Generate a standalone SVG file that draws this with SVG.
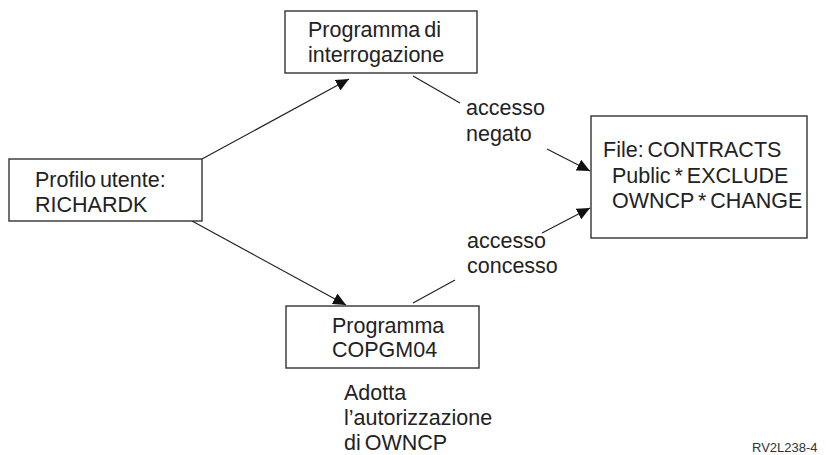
<svg xmlns="http://www.w3.org/2000/svg" width="826" height="455" viewBox="0 0 826 455">
<defs>
<style>
.box{fill:#fff;stroke:#333;stroke-width:1.4}
.t{font-family:"Liberation Sans",Arial,sans-serif;font-size:21.5px;word-spacing:-2px;fill:#222}
.s{font-family:"Liberation Sans",Arial,sans-serif;font-size:13px;fill:#333}
.ln{stroke:#222;stroke-width:1.2;fill:none}
</style>
<marker id="ah" markerWidth="14" markerHeight="12" refX="13" refY="6" orient="auto" markerUnits="userSpaceOnUse">
<path d="M0,0 L13,6 L0,12 Z" fill="#111"/>
</marker>
</defs>
<rect width="826" height="455" fill="#fff"/>
<g id="connectors">
<line class="ln" x1="202" y1="159" x2="349" y2="79" marker-end="url(#ah)"/>
<line class="ln" x1="192" y1="221" x2="346" y2="305" marker-end="url(#ah)"/>
<line class="ln" x1="413" y1="76" x2="460" y2="103"/>
<line class="ln" x1="547" y1="149" x2="590" y2="171" marker-end="url(#ah)"/>
<line class="ln" x1="413" y1="303" x2="455" y2="280"/>
<line class="ln" x1="542" y1="233" x2="590" y2="208" marker-end="url(#ah)"/>
<text class="t" x="466" y="115">accesso</text>
<text class="t" x="466" y="141">negato</text>
<text class="t" x="467" y="248">accesso</text>
<text class="t" x="467" y="273">concesso</text>
</g>
<g id="interrogazione">
<rect class="box" x="285" y="11" width="192" height="62"/>
<text class="t" x="308" y="37">Programma di</text>
<text class="t" x="308" y="62">interrogazione</text>
</g>
<g id="profilo">
<rect class="box" x="9" y="159" width="193" height="62"/>
<text class="t" x="35" y="187">Profilo utente:</text>
<text class="t" x="35" y="212">RICHARDK</text>
</g>
<g id="file">
<rect class="box" x="591" y="116" width="216" height="122"/>
<text class="t" x="603" y="157">File: CONTRACTS</text>
<text class="t" x="612" y="183">Public * EXCLUDE</text>
<text class="t" x="612" y="208">OWNCP * CHANGE</text>
</g>
<g id="copgm04">
<rect class="box" x="286" y="306" width="193" height="62"/>
<text class="t" x="332" y="333">Programma</text>
<text class="t" x="332" y="357">COPGM04</text>
</g>
<g id="note">
<text class="t" x="344" y="400">Adotta</text>
<text class="t" x="344" y="425">l’autorizzazione</text>
<text class="t" x="344" y="450">di OWNCP</text>
</g>
<text class="s" x="752" y="452">RV2L238-4</text>
</svg>
